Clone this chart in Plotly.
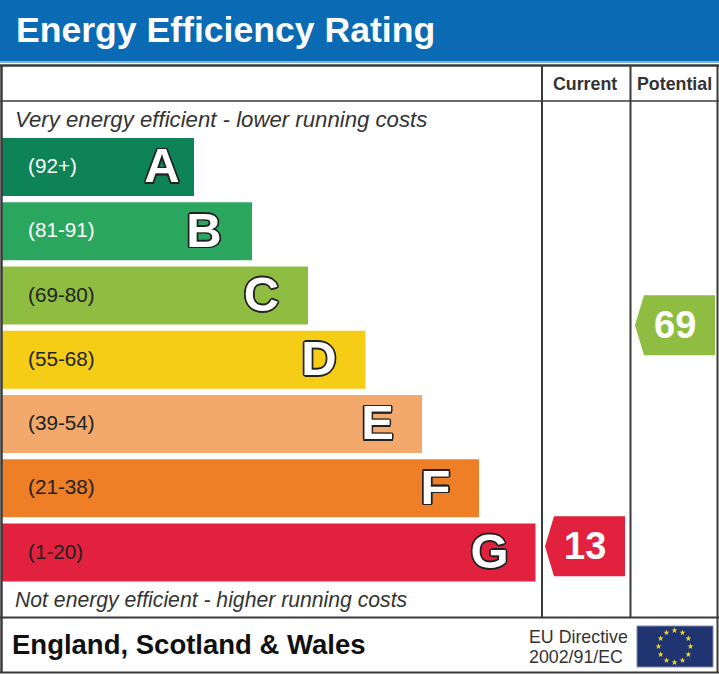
import math
import plotly.graph_objects as go

bands = ["A", "B", "C", "D", "E", "F", "G"]
ranges = ["(92+)", "(81-91)", "(69-80)", "(55-68)", "(39-54)", "(21-38)", "(1-20)"]
bar_ends = [194, 252, 308, 365.5, 422, 479, 535.5]
colors = ["#0E8357", "#2AA65E", "#8EBD42", "#F5CD17", "#F2A96B", "#EE7F27", "#E1213D"]
range_colors = ["#ffffff", "#ffffff", "#222222", "#222222", "#222222", "#222222", "#222222"]
ratings = [("Current", 13, "#E1213D", 545, 625), ("Potential", 69, "#8EBD42", 635, 715)]

W, H = 719, 675
FONT = "Liberation Sans"
DARK = "#333333"
LETTER_X = [162, 204, 261.5, 319, 377.5, 435.5, 489.5]
outline = ",".join(f"{a}px {b}px 0 #222222" for a, b in
                   [(1.7, 0), (-1.7, 0), (0, 1.7), (0, -1.7), (1.2, 1.2), (-1.2, 1.2), (1.2, -1.2), (-1.2, -1.2)])

fig = go.Figure()
rows = list(range(7))
fig.add_trace(go.Bar(
    x=[e - 2 for e in bar_ends], base=2, y=rows, width=0.9, orientation="h",
    marker=dict(color=colors, line=dict(width=0)), hoverinfo="skip", xaxis="x", yaxis="y"))
fig.add_trace(go.Scatter(
    x=[28] * 7, y=[r + 0.015 for r in rows], mode="text", text=ranges, textposition="middle right",
    textfont=dict(family=FONT, size=20.7, color=range_colors), xaxis="x", yaxis="y", hoverinfo="skip"))
fig.add_trace(go.Scatter(
    x=LETTER_X, y=[r + 0.05 for r in rows], mode="text", text=bands, textposition="middle center",
    textfont=dict(family=FONT, size=49, color="#ffffff", weight="bold", shadow=outline),
    xaxis="x", yaxis="y", hoverinfo="skip"))

# EU flag stars
fig.add_trace(go.Scatter(
    x=[674.5 + 16 * math.sin(i * math.pi / 6) for i in range(12)],
    y=[646.5 - 16 * math.cos(i * math.pi / 6) for i in range(12)],
    mode="markers", marker=dict(symbol="star", size=4.5, color="#F6DC1E", line=dict(width=0)),
    xaxis="x", yaxis="y3", hoverinfo="skip"))

shapes = [
    dict(type="rect", xref="x", yref="y3", x0=0, x1=W, y0=0, y1=61, fillcolor="#0A6AB4", line_width=0, layer="below"),
    dict(type="rect", xref="x", yref="y3", x0=0, x1=W, y0=61, y1=63, fillcolor="#7FB2DA", line_width=0, layer="below"),
    dict(type="rect", xref="x", yref="y3", x0=637, x1=713, y0=626, y1=667, fillcolor="#1F3470", line=dict(color="#8088AA", width=1), layer="below"),
]
for x0, y0, x1, y1, w in [
    (0, 65.5, W, 65.5, 2.5), (0, 101, W, 101, 1.5), (0, 617.5, W, 617.5, 2), (0, 672.5, W, 672.5, 2),
    (1.5, 65, 1.5, 673, 2.5), (717.5, 65, 717.5, 673, 2), (542, 65, 542, 617, 2), (630.5, 65, 630.5, 617, 2),
]:
    shapes.append(dict(type="line", xref="x", yref="y3", x0=x0, y0=y0, x1=x1, y1=y1,
                       line=dict(color="#3A3A3A", width=w), layer="above"))

anns = []
def label(x, y, t, size, color=DARK, anchor="left", yref="y3", **font):
    anns.append(dict(x=x, y=y, xref="x", yref=yref, text=t, showarrow=False, xanchor=anchor, yanchor="middle",
                     borderpad=0, font=dict(family=FONT, size=size, color=color, **font)))

for name, score, col, x0, x1 in ratings:
    shapes.append(dict(type="path", xref="x", yref="y2", ysizemode="pixel", yanchor=score, line_width=0,
                       fillcolor=col, layer="above",
                       path=f"M {x0+9} -30 L {x1} -30 L {x1} 30 L {x0+9} 30 L {x0} 0 Z"))
    label((x0 + x1) / 2, score, str(score), 38, "#ffffff", "center", "y2", weight="bold")

label(15, 29.5, "Energy Efficiency Rating", 35.6, "#ffffff", weight="bold")
label(585, 84, "Current", 17.8, DARK, "center", weight="bold")
label(674.5, 84, "Potential", 17.8, DARK, "center", weight="bold")
label(14, 119.5, "Very energy efficient - lower running costs", 22.2, "#333333", style="italic")
label(14, 599.5, "Not energy efficient - higher running costs", 21.2, "#333333", style="italic")
label(11, 644.5, "England, Scotland &amp; Wales", 27.5, "#111111", weight="bold")
label(528, 637, "EU Directive", 17.8, "#333333")
label(528, 657, "2002/91/EC", 17.8, "#333333")

noax = dict(visible=False, fixedrange=True)
fig.update_layout(
    width=W, height=H, margin=dict(l=0, r=0, t=0, b=0), showlegend=False,
    paper_bgcolor="#ffffff", plot_bgcolor="rgba(0,0,0,0)", shapes=shapes, annotations=anns,
    xaxis=dict(range=[0, W], domain=[0, 1], **noax),
    yaxis=dict(range=[6.5, -0.5], domain=[1 - 584.6 / H, 1 - 134.9 / H], **noax),
    yaxis2=dict(range=[-19.6, 151.4], domain=[0, 1], **noax),
    yaxis3=dict(range=[H, 0], domain=[0, 1], **noax),
)
fig.write_html("out.html", config=dict(displayModeBar=False),
               post_script="document.body.style.margin='0';document.body.style.overflow='hidden';")
